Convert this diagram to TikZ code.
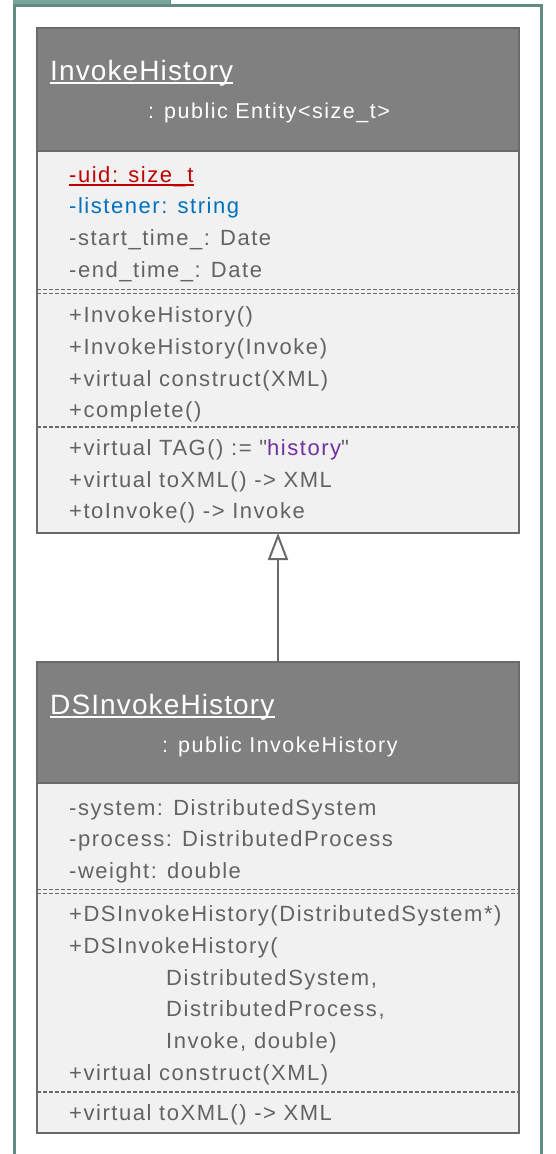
\documentclass[tikz,border=0pt]{standalone}
\usepackage{fontspec}
\setmainfont{Liberation Sans}[LetterSpace=7]
% member lines use a family without TeX input mapping so that " stays straight
\newfontfamily\bodyfont{Liberation Sans}[LetterSpace=7]
\newfontfamily\titlefont{Liberation Sans}[LetterSpace=4]
\usetikzlibrary{arrows.meta}

\definecolor{frameteal}{RGB}{98,139,129}
\definecolor{tabteal}{RGB}{122,166,153}
\definecolor{headfill}{RGB}{128,128,128}
\definecolor{boxline}{RGB}{106,106,106}
\definecolor{bodyfill}{RGB}{241,241,241}
\definecolor{membertext}{RGB}{99,99,99}
\definecolor{staticred}{RGB}{192,0,0}
\definecolor{fieldblue}{RGB}{0,112,192}
\definecolor{literal}{RGB}{112,48,160}

\begin{document}
\begin{tikzpicture}[x=1pt,y=-1pt,
  classbody/.style={rectangle, draw=boxline, line width=2.6pt, fill=bodyfill,
    inner sep=0, outer sep=0, anchor=north west, minimum width=482pt},
  classhead/.style={rectangle, draw=boxline, line width=2.6pt, fill=headfill,
    inner sep=0, outer sep=0, anchor=north west, minimum width=482pt},
  classname/.style={anchor=base west, inner sep=0, text=white,
    font=\titlefont\fontsize{28}{32}\selectfont},
  parentname/.style={anchor=base west, inner sep=0, text=white,
    font=\fontsize{21.5}{25}\selectfont},
  member/.style={anchor=base west, inner sep=0, text=membertext,
    font=\bodyfont\fontsize{22}{26}\selectfont},
  divider/.style={boxline, line width=1.4pt, dash pattern=on 4pt off 2pt},
  inherit/.style={boxline, line width=2pt,
    -{Triangle[open, length=27pt, width=20pt, line width=2pt]}}
]
\useasboundingbox (0,0) rectangle (555,1154);

% package frame with its tab
\fill[tabteal] (13,0) rectangle (170,4);
\draw[frameteal, line width=1pt] (170,0) -- (170,4);
\draw[frameteal, line width=2.6pt] (14.3,1156) |- (541.7,5.3) -- (541.7,1156);

% ---------- InvokeHistory ----------
\node[classbody, minimum height=505pt] (ih) at (37,28) {};
\node[classhead, minimum height=123pt] (ihhead) at (37,28) {};
\node[classname] (ihname) at (50,80) {InvokeHistory};
\draw[white, line width=1.4pt] ([yshift=-3pt]ihname.base west) -- ([yshift=-3pt]ihname.base east);
\node[parentname] (ihparent) at (148,118) {: public Entity<size\_t>};

\node[member, text=staticred] (ihm1) at (69,182) {-uid: size\_t};
\draw[staticred, line width=1.2pt] ([yshift=-3pt]ihm1.base west) -- ([yshift=-3pt]ihm1.base east);
\node[member, text=fieldblue] (ihm2) at (69,213.5) {-listener: string};
\node[member] (ihm3) at (69,245) {-start\_time\_: Date};
\node[member] (ihm4) at (69,277) {-end\_time\_: Date};

\draw[divider] (ih.west |- 0,289.5) -- (ih.east |- 0,289.5);
\draw[divider] (ih.west |- 0,293.5) -- (ih.east |- 0,293.5);

\node[member] (ihf1) at (69,322.5) {+InvokeHistory()};
\node[member] (ihf2) at (69,354) {+InvokeHistory(Invoke)};
\node[member] (ihf3) at (69,386) {+virtual construct(XML)};
\node[member] (ihf4) at (69,417.5) {+complete()};

\draw[divider] (ih.west |- 0,427) -- (ih.east |- 0,427);

\node[member] (ihf5) at (69,455) {+virtual TAG() := "\textcolor{literal}{history}"};
\node[member] (ihf6) at (69,487) {+virtual toXML() -> XML};
\node[member] (ihf7) at (69,518.5) {+toInvoke() -> Invoke};

% ---------- DSInvokeHistory ----------
\node[classbody, minimum height=471pt] (dsh) at (37,662) {};
\node[classhead, minimum height=121pt] (dshhead) at (37,662) {};
\node[classname] (dshname) at (50,714) {DSInvokeHistory};
\draw[white, line width=1.4pt] ([yshift=-3pt]dshname.base west) -- ([yshift=-3pt]dshname.base east);
\node[parentname] (dshparent) at (162,752) {: public InvokeHistory};

\node[member] (dshm1) at (69,815) {-system: DistributedSystem};
\node[member] (dshm2) at (69,846.5) {-process: DistributedProcess};
\node[member] (dshm3) at (69,878) {-weight: double};

\draw[divider] (dsh.west |- 0,889.5) -- (dsh.east |- 0,889.5);
\draw[divider] (dsh.west |- 0,893.5) -- (dsh.east |- 0,893.5);

\node[member] (dshf1) at (69,921.5) {+DSInvokeHistory(DistributedSystem*)};
\node[member] (dshf2) at (69,953) {+DSInvokeHistory(};
\node[member] (dshf2a) at (166,985) {DistributedSystem,};
\node[member] (dshf2b) at (166,1016.5) {DistributedProcess,};
\node[member] (dshf2c) at (166,1048) {Invoke, double)};
\node[member] (dshf3) at (69,1080) {+virtual construct(XML)};

\draw[divider] (dsh.west |- 0,1092) -- (dsh.east |- 0,1092);

\node[member] (dshf4) at (69,1120) {+virtual toXML() -> XML};

% inheritance
\draw[inherit] (dshhead.north) -- (ih.south);
\end{tikzpicture}
\end{document}
